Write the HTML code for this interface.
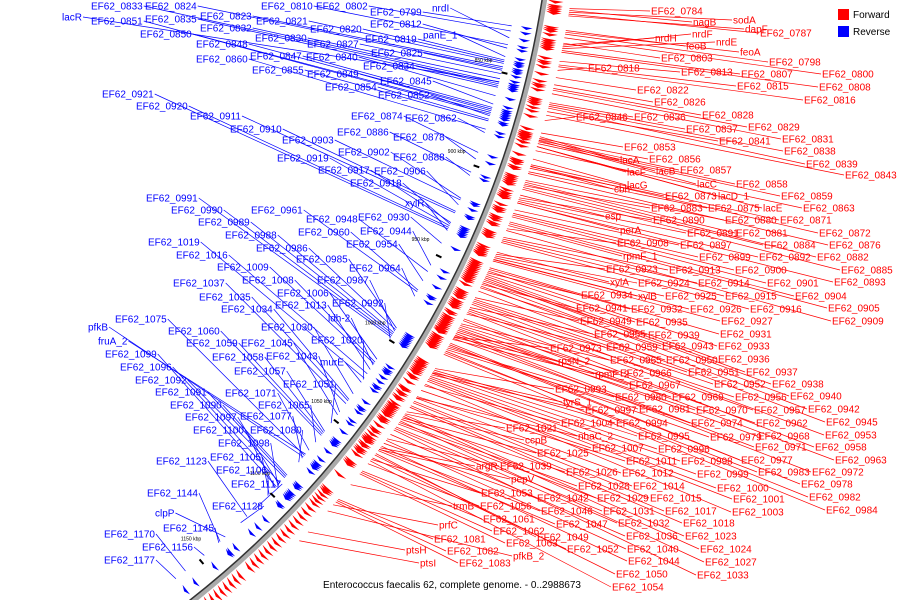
<!DOCTYPE html>
<html><head><meta charset="utf-8"><style>
html,body{margin:0;padding:0;background:#fff;overflow:hidden;width:900px;height:600px;}
svg{display:block;font-family:"Liberation Sans",sans-serif;}
.lb{font-size:10px;}
</style></head><body>
<svg id="chart" width="900" height="600" viewBox="0 0 900 600" xmlns="http://www.w3.org/2000/svg">
<g id="lines"></g>
<g id="backbone"></g>
<g id="genes"></g>
<g id="ticks"></g>
<g id="labels"></g>
<g>
<rect x="838" y="9" width="11" height="11" fill="#ff0000"/>
<text x="853" y="18" font-size="10" fill="#000">Forward</text>
<rect x="838" y="26" width="11" height="11" fill="#0000ff"/>
<text x="853" y="35" font-size="10" fill="#000">Reverse</text>
</g>
<text x="452" y="588" font-size="10" text-anchor="middle" fill="#000">Enterococcus faecalis 62, complete genome. - 0..2988673</text>
</svg>
<script>
const geneNames=["lacR","EF62_0833","EF62_0824","EF62_0810","EF62_0802","EF62_0799","nrdI","EF62_0851","EF62_0835","EF62_0823","EF62_0821","EF62_0812","EF62_0832","EF62_0820","EF62_0850","EF62_0830","EF62_0819","panE_1","EF62_0827","EF62_0848","EF62_0825","EF62_0847","EF62_0840","EF62_0860","EF62_0834","EF62_0855","EF62_0849","EF62_0845","EF62_0854","EF62_0852","EF62_0921","EF62_0920","EF62_0874","EF62_0862","EF62_0911","EF62_0910","EF62_0886","EF62_0878","EF62_0903","EF62_0902","EF62_0888","EF62_0919","EF62_0917","EF62_0906","EF62_0918","EF62_0991","xylR","EF62_0990","EF62_0961","EF62_0930","EF62_0989","EF62_0948","EF62_0988","EF62_0960","EF62_0944","EF62_1019","EF62_0986","EF62_0954","EF62_1016","EF62_0985","EF62_1009","EF62_0964","EF62_1008","EF62_0987","EF62_1037","EF62_1006","EF62_1035","EF62_1013","EF62_0992","EF62_1034","ldh-2","EF62_1075","pfkB","EF62_1060","EF62_1030","fruA_2","EF62_1059","EF62_1045","EF62_1020","EF62_1099","EF62_1058","EF62_1043","murE","EF62_1096","EF62_1057","EF62_1092","EF62_1051","EF62_1091","EF62_1071","EF62_1090","EF62_1065","EF62_1097","EF62_1077","EF62_1100","EF62_1080","EF62_1098","EF62_1123","EF62_1105","EF62_1106","EF62_1117","EF62_1144","EF62_1128","clpP","EF62_1145","EF62_1170","EF62_1156","EF62_1177",
"EF62_0784","nagB","sodA","dapF","EF62_0787","nrdH","nrdF","nrdE","feoB","feoA","EF62_0803","EF62_0798","EF62_0818","EF62_0813","EF62_0807","EF62_0800","EF62_0815","EF62_0808","EF62_0822","EF62_0816","EF62_0826","EF62_0846","EF62_0836","EF62_0828","EF62_0837","EF62_0829","EF62_0841","EF62_0831","EF62_0853","EF62_0838","lacA","EF62_0856","EF62_0839","lacF","lacB","EF62_0857","EF62_0843","lacG","lacC","EF62_0858","cbh","EF62_0873","lacD_1","EF62_0859","EF62_0883","EF62_0875","lacE","EF62_0863","esp","EF62_0890","EF62_0880","EF62_0871","perA","EF62_0891","EF62_0881","EF62_0872","EF62_0908","EF62_0897","EF62_0884","EF62_0876","rpmF_1","EF62_0899","EF62_0892","EF62_0882","EF62_0923","EF62_0913","EF62_0900","EF62_0885","xylA","EF62_0924","EF62_0914","EF62_0901","EF62_0893","EF62_0934","xylB","EF62_0925","EF62_0915","EF62_0904","EF62_0941","EF62_0932","EF62_0926","EF62_0916","EF62_0905","EF62_0949","EF62_0935","EF62_0927","EF62_0909","EF62_0955","EF62_0939","EF62_0931","EF62_0973","EF62_0959","EF62_0943","EF62_0933","rpsN_2","EF62_0965","EF62_0950","EF62_0936","rpmF_2","EF62_0966","EF62_0951","EF62_0937","EF62_0967","EF62_0952","EF62_0938","EF62_0993","tyrS_1","EF62_0980","EF62_0969","EF62_0956","EF62_0940","EF62_0997","EF62_0981","EF62_0970","EF62_0957","EF62_0942","EF62_1004","EF62_0994","EF62_0974","EF62_0962","EF62_0945","EF62_1021","nhaC_2","EF62_0995","EF62_0979","EF62_0968","EF62_0953","ccpB","EF62_1007","EF62_0996","EF62_0971","EF62_0958","EF62_1025","EF62_1011","EF62_0998","EF62_0977","EF62_0963","argR","EF62_1039","EF62_1026","EF62_1012","EF62_0999","EF62_0983","EF62_0972","pepV","EF62_1028","EF62_1014","EF62_1000","EF62_0978","EF62_1053","EF62_1042","EF62_1029","EF62_1015","EF62_1001","EF62_0982","trmB","EF62_1056","EF62_1046","EF62_1031","EF62_1017","EF62_1003","EF62_0984","EF62_1061","EF62_1047","EF62_1032","EF62_1018","prfC","EF62_1062","EF62_1049","EF62_1036","EF62_1023","EF62_1081","EF62_1063","EF62_1052","EF62_1040","EF62_1024","ptsH","EF62_1082","pfkB_2","EF62_1044","EF62_1027","ptsI","EF62_1083","EF62_1050","EF62_1033","EF62_1054"];
const geneKbp=[855,856.1,848,835.4,828.2,825.5,831.8,872.3,857.9,847.1,845.3,837.2,855.2,844.4,871.4,853.4,843.5,841.7,850.7,869.6,848.9,868.7,862.4,880.4,857,875.9,870.5,866.9,875,873.2,935.3,934.4,893,882.2,926.3,925.4,903.8,896.6,919.1,918.2,905.6,933.5,931.7,921.8,932.6,998.3,936.2,997.4,971.3,943.4,996.5,959.6,995.6,970.4,956,1023.5,993.8,965,1020.8,992.9,1014.5,974,1013.6,994.7,1039.7,1011.8,1037.9,1018.1,999.2,1037,1015.4,1073.9,1074.8,1060.4,1033.4,1073,1059.5,1046.9,1024.4,1095.5,1058.6,1045.1,1026.2,1092.8,1057.7,1089.2,1052.3,1088.3,1070.3,1087.4,1064.9,1093.7,1075.7,1096.4,1078.4,1094.6,1117.1,1100.9,1101.8,1111.7,1136,1121.6,1132.4,1136.9,1159.4,1146.8,1165.7,
812,812.9,813.8,815.6,814.7,830,830.9,831.8,822.8,823.7,829.1,824.6,842.6,838.1,832.7,826.4,839.9,833.6,846.2,840.8,849.8,867.8,858.8,851.6,859.7,852.5,863.3,854.3,874.1,860.6,876,876.8,861.5,881,877,877.7,865.1,887.4,878,878.6,891,892.1,881,879.5,901.1,893.9,881,883.1,906,907.4,898.4,890.3,910,908.3,899.3,891.2,923.6,913.7,902,894.8,921.9,915.5,909.2,900.2,937.1,928.1,916.4,902.9,936,938,929,917.3,910.1,947,940,938.9,929.9,920,953.3,945.2,939.8,930.8,920.9,960.5,947.9,940.7,924.5,965.9,951.5,944.3,982.1,969.5,955.1,946.1,982.4,974.9,961.4,948.8,983.6,975.8,962.3,949.7,976.7,963.2,950.6,1000.1,1002.6,988.4,978.5,966.8,952.4,1003.7,989.3,979.4,967.7,954.2,1010,1001,983,972.2,956.9,1025.3,1017,1001.9,987.5,977.6,964.1,1026.5,1012.7,1002.8,980.3,968.6,1028.9,1016.3,1004.6,985.7,973.1,1047,1041.5,1029.8,1017.2,1005.5,991.1,981.2,1048,1031.6,1019,1006.4,986.6,1054.1,1044.2,1032.5,1019.9,1007.3,990.2,1070,1056.8,1047.8,1034.3,1021.7,1009.1,992,1061.3,1048.7,1035.2,1022.6,1083,1062.2,1050.5,1038.8,1027.1,1079.3,1063.1,1053.2,1042.4,1028,1101,1080.2,1087,1046,1030.7,1107,1081.1,1051.4,1036.1,1055];
const blueCount=107;
const geneStrand=geneNames.map((n,i)=>i<blueCount?-1:1);
// unlabeled forward genes (kbp)
const extraFwdKbp=[805,808,810,1085,1089,1092,1095,1098,1104,1110,1113,1116,1119,1122,1125,1128,1131,1134,1140,1143,1146,1149,1152,1155,1158,1161,1164];
const tickKbp=[850,900,950,1000,1050,1100,1150];
const tickLabels=["850 kbp","900 kbp","950 kbp","1000 kbp","1050 kbp","1100 kbp","1150 kbp"];
// label layout (pixel positions, not data)
const labelPos=[[62,17],[91,6],[145,6],[261,6],[316,6],[370,12],[432,8],[91,21],[145,19],[200,16],[256,21],[370,24],[200,28],[310,29],[140,34],[255,38],[365,39],[423,35],[307,44],[196,44],[371,53],[250,56],[306,57],[196,59],[363,66],[252,70],[307,74],[380,81],[325,87],[378,95],[102,94],[136,106],[351,116],[405,118],[190,116],[230,129],[337,132],[393,137],[282,140],[338,152],[393,157],[277,158],[318,170],[374,171],[350,183],[146,198],[405,203],[171,210],[251,210],[358,217],[198,222],[306,219],[225,235],[298,232],[360,231],[148,242],[256,248],[346,244],[176,255],[296,259],[217,267],[349,268],[242,280],[317,280],[173,283],[277,293],[199,297],[275,305],[332,303],[221,309],[328,318],[115,319],[88,327],[168,331],[261,327],[98,341],[186,343],[241,343],[311,340],[105,354],[212,357],[266,356],[320,362],[120,367],[234,371],[135,380],[283,384],[155,392],[225,393],[170,405],[258,405],[185,417],[240,416],[193,430],[250,430],[218,443],[156,461],[210,457],[216,470],[231,484],[147,493],[212,506],[155,513],[163,528],[104,534],[142,547],[104,560],
[651,11],[693,22],[733,20],[745,29],[760,33],[655,38],[692,34],[716,42],[686,46],[740,52],[661,58],[769,62],[588,68],[681,72],[741,74],[822,74],[737,86],[819,87],[637,90],[804,100],[654,102],[576,117],[634,117],[702,115],[686,129],[748,127],[719,141],[782,139],[624,147],[784,151],[620,160],[649,159],[806,164],[627,172],[656,171],[680,170],[845,175],[627,185],[697,184],[736,184],[614,189],[665,196],[718,196],[781,196],[651,208],[708,208],[763,208],[803,208],[605,216],[653,220],[725,220],[780,220],[620,230],[687,233],[736,233],[819,233],[617,243],[680,245],[764,245],[829,245],[623,256],[699,257],[759,257],[817,257],[606,269],[669,270],[735,270],[841,270],[610,282],[638,283],[698,283],[767,283],[834,282],[581,295],[638,296],[665,296],[725,296],[795,296],[576,308],[631,309],[690,309],[750,309],[828,308],[580,321],[636,322],[721,321],[832,321],[594,334],[648,335],[720,334],[550,348],[606,347],[662,346],[718,346],[558,361],[610,360],[666,360],[718,359],[595,374],[620,373],[688,372],[746,372],[629,385],[714,384],[772,384],[555,389],[563,402],[615,397],[672,397],[735,397],[790,396],[585,410],[639,409],[696,410],[754,410],[808,409],[561,423],[616,423],[691,423],[756,423],[826,422],[506,428],[578,436],[638,436],[710,437],[758,436],[825,435],[525,440],[592,448],[658,449],[755,447],[815,447],[537,453],[626,461],[681,461],[741,460],[835,460],[476,466],[500,466],[566,472],[622,473],[697,474],[758,472],[812,472],[511,479],[578,486],[633,486],[717,488],[801,484],[481,493],[537,498],[597,498],[650,498],[733,499],[809,497],[453,506],[480,506],[541,511],[603,511],[665,511],[732,512],[826,510],[483,519],[556,524],[618,523],[683,523],[439,525],[493,531],[537,537],[626,536],[685,536],[434,539],[506,543],[567,549],[627,549],[700,549],[406,550],[447,551],[513,556],[628,561],[705,562],[420,563],[459,563],[616,574],[697,575],[612,587]];

const NS="http://www.w3.org/2000/svg";
const CX=-396,CY=-147,R=952;
function ang(k){return (31.8+(k-1000)*0.12045)*Math.PI/180;}
function pt(k,r){const a=ang(k);return [CX+r*Math.cos(a),CY+r*Math.sin(a)];}
function mk(tag,attrs,parent){const e=document.createElementNS(NS,tag);for(const k in attrs)e.setAttribute(k,attrs[k]);parent.appendChild(e);return e;}
const gL=document.getElementById('lines'),gB=document.getElementById('backbone'),gG=document.getElementById('genes'),gT=document.getElementById('ticks'),gX=document.getElementById('labels');

{
  const a=pt(790,R),b=pt(1170,R);
  const p=mk('path',{d:`M${a[0]},${a[1]} A${R},${R} 0 0 1 ${b[0]},${b[1]}`,fill:'none',stroke:'#aaa','stroke-width':5},gB);
  
  
  const a2=pt(790,R-2.5),b2=pt(1170,R-2.5);
  const p2=mk('path',{d:`M${a2[0]},${a2[1]} A${R-2.5},${R-2.5} 0 0 1 ${b2[0]},${b2[1]}`,fill:'none',stroke:'#333','stroke-width':1.5},gB);
  
  
}
tickKbp.forEach((k,i)=>{
  const p1=pt(k,R-22),p2=pt(k,R-28);
  const l=mk('line',{x1:p1[0],y1:p1[1],x2:p2[0],y2:p2[1],stroke:'#000','stroke-width':2},gT);
  
  
  const q=pt(k-3,R-48);
  const t=mk('text',{x:q[0],y:q[1],'font-size':5,'text-anchor':'middle',fill:'#000'},gT);
  
  
  t.textContent=tickLabels[i];
});
function arrow(k,s){
  const col=s>0?'#ff0000':'#0000ff';
  const r0=s>0?R+3:R-7,r1=s>0?R+19:R-19;
  const len=1.4;
  const a=pt(k-len/2,r0),b=pt(k-len/2,r1),c=pt(k+len/2,(r0+r1)/2);
  const g=mk('polygon',{points:`${a[0]},${a[1]} ${b[0]},${b[1]} ${c[0]},${c[1]}`,fill:col},gG);
  return g;
}
extraFwdKbp.forEach(k=>{
  const g=arrow(k,1);
  
  
});
geneNames.forEach((name,i)=>{
  const k=geneKbp[i],s=geneStrand[i];
  const col=s>0?'#ff0000':'#0000ff';
  const g=arrow(k,s);
  
  
  const [lx,ly]=labelPos[i];
  const t=mk('text',{x:lx,y:ly+3.5,class:'lb',fill:col},gX);
  
  
  t.textContent=name;
  let sx,sy,ex,ey;
  if(s>0){const p=pt(k,R+26);sx=p[0];sy=p[1];ex=lx-1;ey=ly;}
  else{const w=t.getComputedTextLength();const p=pt(k,R-28);sx=lx+w+1;sy=ly;ex=p[0];ey=p[1];}
  const ln=mk('line',{x1:sx,y1:sy,x2:ex,y2:ey,stroke:col,'stroke-width':0.7},gL);
  
  
});
</script>
</body></html>
